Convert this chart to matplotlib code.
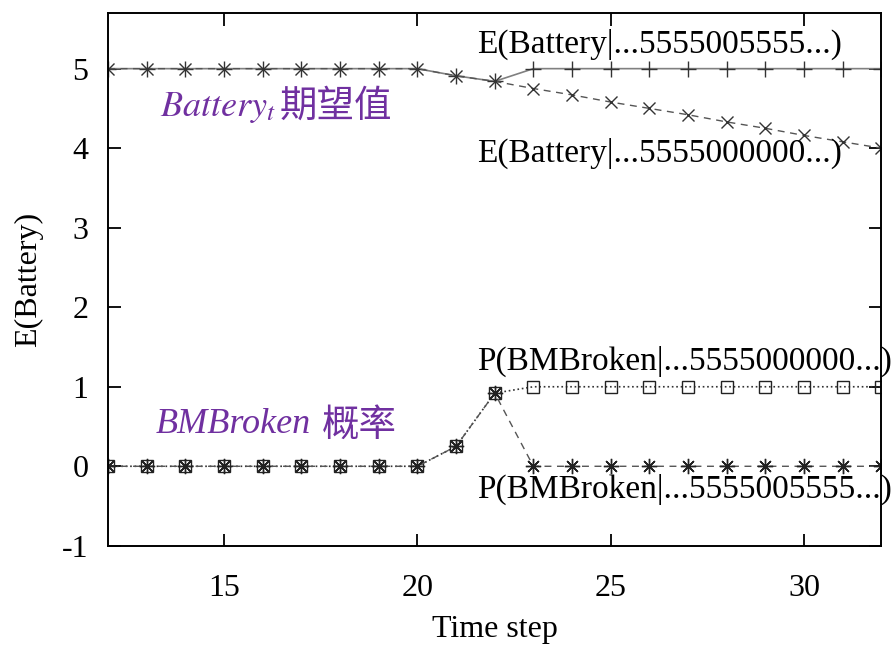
import matplotlib
matplotlib.use("Agg")
import matplotlib.pyplot as plt

plt.rcParams['font.family'] = ['Liberation Serif', 'Noto Sans CJK SC', 'DejaVu Sans']
plt.rcParams['mathtext.fontset'] = 'stix'

# time steps
steps = list(range(12, 33))

# expected battery level, evidence ...5555005555...
batt_recover = [5, 5, 5, 5, 5, 5, 5, 5, 5, 4.91, 4.84,
                5, 5, 5, 5, 5, 5, 5, 5, 5, 5]
# expected battery level, evidence ...5555000000...
batt_drop = [5, 5, 5, 5, 5, 5, 5, 5, 5, 4.91, 4.84,
             4.75, 4.67, 4.58, 4.50, 4.42, 4.33, 4.25, 4.16, 4.08, 4.0]
# probability battery meter broken, evidence ...5555000000...
broken_drop = [0, 0, 0, 0, 0, 0, 0, 0, 0, 0.25, 0.92,
               1, 1, 1, 1, 1, 1, 1, 1, 1, 1]
# probability battery meter broken, evidence ...5555005555...
broken_recover = [0, 0, 0, 0, 0, 0, 0, 0, 0, 0.25, 0.92,
                  0, 0, 0, 0, 0, 0, 0, 0, 0, 0]

xticks = [15, 20, 25, 30]
yticks = [-1, 0, 1, 2, 3, 4, 5]

purple = '#7030A0'
asterisk = (8, 2, 0)

fig = plt.figure(figsize=(8.93, 6.49), dpi=100)
ax = fig.add_axes([0.121, 0.159, 0.866, 0.821])

ax.plot(steps, batt_recover, '-', color='#808080', lw=1.2,
        marker='+', ms=11, mew=1.0, mec='#333333')
ax.plot(steps, batt_drop, '--', color='#555555', lw=1.0, dashes=(5, 4),
        marker='x', ms=8, mew=1.0, mec='#333333')
ax.plot(steps, broken_drop, ':', color='#333333', lw=1.2,
        marker='s', ms=8, mew=1.0, mfc='none', mec='#222222')
ax.plot(steps, broken_recover, '--', color='#555555', lw=1.0, dashes=(5, 4),
        marker=asterisk, ms=11, mew=1.0, mec='#222222')

ax.set_xlim(12, 32)
ax.set_ylim(-1, 5.7)
ax.set_xticks(xticks)
ax.set_yticks(yticks)
ax.set_yticklabels([str(v) for v in yticks])
ax.tick_params(direction='in', length=9, width=1.3, labelsize=23,
               top=True, right=True)
ax.tick_params(axis='x', pad=20)
ax.tick_params(axis='y', pad=14)
for sp in ax.spines.values():
    sp.set_linewidth(1.4)

ax.set_xlabel('Time step', fontsize=23, labelpad=9)
ax.set_ylabel('E(Battery)', fontsize=23, labelpad=14)

lab_kw = dict(fontsize=24, va='center', ha='left', color='black')
ax.text(21.55, 5.30, 'E(Battery|...5555005555...)', **lab_kw)
ax.text(21.55, 3.93, 'E(Battery|...5555000000...)', **lab_kw)
ax.text(21.55, 1.32, 'P(BMBroken|...5555000000...)', **lab_kw)
ax.text(21.55, -0.29, 'P(BMBroken|...5555005555...)', **lab_kw)

# purple annotations: italic Latin part, then the CJK part right after it
t1 = ax.text(13.35, 4.51, r'$\mathit{Battery}_t$', fontsize=26,
             color=purple, va='center', ha='left')
ax.annotate('期望值', xy=(1.0, 0.55), xycoords=t1, xytext=(2, 0),
            textcoords='offset points', fontsize=27, color=purple,
            va='center', ha='left', family=['Noto Sans CJK SC'])
t2 = ax.text(13.22, 0.52, 'BMBroken', fontsize=26, style='italic',
             color=purple, va='center', ha='left')
ax.annotate('概率', xy=(1.0, 0.5), xycoords=t2, xytext=(8, 0),
            textcoords='offset points', fontsize=27, color=purple,
            va='center', ha='left', family=['Noto Sans CJK SC'])

fig.savefig('out.png', dpi=100)
